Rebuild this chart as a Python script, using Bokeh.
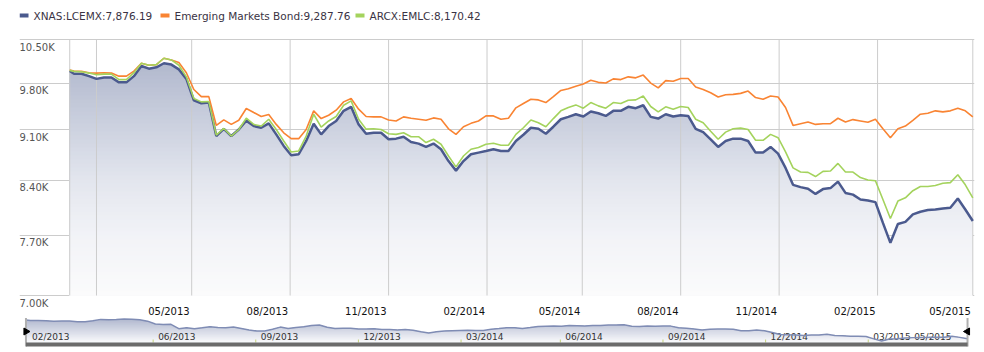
import numpy as np
import pandas as pd
from bokeh.plotting import figure
from bokeh.models import Range1d, FixedTicker, BoxAnnotation, LinearScale
from bokeh.layouts import column
from bokeh.embed import file_html
from bokeh.resources import INLINE
from bokeh.core.properties import value

# ---------------- data ----------------
dates = pd.DatetimeIndex([pd.Timestamp("2013-01-07")]).append(
    pd.date_range("2013-01-11", periods=121, freq="7D"))

names = ["XNAS:LCEMX", "Emerging Markets Bond", "ARCX:EMLC"]

lcemx = [9988,
         9945, 9945, 9908, 9865, 9886, 9886, 9811, 9811, 9908, 10069,
         10026, 10048, 10112, 10091, 10015, 9865, 9537, 9492, 9502, 9011,
         9115, 9011, 9105, 9234, 9155, 9130, 9194, 9035, 8871, 8741,
         8755, 8941, 9189, 9035, 9155, 9229, 9378, 9438, 9179, 9044,
         9058, 9058, 8965, 8974, 9002, 8927, 8904, 8857, 8904, 8825,
         8661, 8531, 8661, 8755, 8778, 8801, 8825, 8801, 8801, 8941,
         9030, 9130, 9115, 9044, 9145, 9254, 9289, 9328, 9294, 9368,
         9343, 9303, 9378, 9378, 9438, 9418, 9462, 9289, 9264, 9328,
         9294, 9313, 9303, 9115, 9067, 8965, 8857, 8941, 8974, 8974,
         8941, 8778, 8778, 8857, 8764, 8568, 8341, 8311, 8290, 8222,
         8285, 8298, 8383, 8235, 8213, 8150, 8137, 8116, 7853, 7609,
         7840, 7866, 7959, 7993, 8014, 8022, 8035, 8044, 8162, 8022, 7876.19]

em_bond = [10005,
           9988, 9983, 9962, 9956, 9962, 9956, 9908, 9908, 9988, 10112,
           10080, 10091, 10193, 10166, 10123, 9962, 9701, 9591, 9591, 9164,
           9244, 9179, 9239, 9413, 9353, 9294, 9323, 9179, 9058, 8974,
           8974, 9105, 9378, 9264, 9313, 9388, 9512, 9562, 9403, 9294,
           9289, 9289, 9244, 9229, 9289, 9269, 9254, 9239, 9274, 9254,
           9115, 9035, 9145, 9194, 9229, 9303, 9303, 9254, 9269, 9423,
           9487, 9552, 9542, 9502, 9591, 9686, 9711, 9750, 9785, 9843,
           9811, 9800, 9865, 9854, 9897, 9881, 9924, 9800, 9726, 9838,
           9827, 9870, 9870, 9740, 9701, 9651, 9587, 9621, 9626, 9641,
           9676, 9577, 9552, 9601, 9587, 9428, 9164, 9189, 9214, 9179,
           9189, 9189, 9269, 9214, 9249, 9229, 9209, 9254, 9115, 8988,
           9115, 9155, 9239, 9328, 9343, 9378, 9363, 9378, 9418, 9378, 9287.76]

emlc = [9999,
        9983, 9978, 9956, 9929, 9940, 9940, 9854, 9854, 9962, 10112,
        10080, 10091, 10193, 10166, 10080, 9897, 9562, 9512, 9517, 9025,
        9120, 9011, 9105, 9269, 9179, 9155, 9254, 9105, 8941, 8787,
        8801, 9011, 9328, 9140, 9229, 9294, 9462, 9527, 9254, 9110,
        9115, 9105, 9044, 9035, 9058, 9002, 9002, 8918, 8965, 8895,
        8731, 8582, 8731, 8825, 8848, 8895, 8909, 8881, 8881, 9035,
        9130, 9244, 9204, 9145, 9264, 9378, 9428, 9467, 9418, 9502,
        9452, 9418, 9502, 9487, 9537, 9542, 9601, 9443, 9363, 9438,
        9403, 9443, 9428, 9254, 9204, 9081, 8965, 9067, 9115, 9125,
        9105, 8951, 8951, 9035, 8988, 8787, 8568, 8512, 8507, 8451,
        8521, 8526, 8629, 8512, 8512, 8437, 8405, 8396, 8150, 7908,
        8129, 8171, 8264, 8319, 8319, 8332, 8362, 8370, 8475, 8341, 8170.42]

y_ticks = [7000, 7700, 8400, 9100, 9800, 10500]
grid_months = ["2013-02-01", "2013-05-01", "2013-08-01", "2013-11-01", "2014-02-01",
               "2014-05-01", "2014-08-01", "2014-11-01", "2015-02-01", "2015-05-01"]
x_label_months = grid_months[1:]
nav_tick_dates = ["2013-05-01", "2013-08-01", "2013-11-01", "2014-02-01",
                  "2014-05-01", "2014-08-01", "2014-11-01", "2015-02-01"]
nav_tick_labels = ["06/2013", "09/2013", "12/2013", "03/2014",
                   "06/2014", "09/2014", "12/2014", "03/2015"]
nav_first_label = "02/2013"
nav_last_label = "05/2015"

# ---------------- styles / layout ----------------
FONT = "DejaVu Sans"
C_BLUE = "#4b5a8e"
C_ORANGE = "#f98433"
C_GREEN = "#a4d35d"
C_GRID = "#cccccc"
DAY = 86400000.0
MAIN_H = 317
LEG_X = [19, 160, 355]      # legend item left edges (page px)
LEG_Y = 15                  # legend row centre (page px from top)


def ms(t):
    return pd.Timestamp(t).value / 1e6


def grad(t, stops):
    t = min(max(t, 0.0), 1.0)
    for (t0, c0), (t1, c1) in zip(stops[:-1], stops[1:]):
        if t <= t1:
            f = (t - t0) / (t1 - t0) if t1 > t0 else 0
            c = [int(round(a + (b - a) * f)) for a, b in zip(c0, c1)]
            return "#%02x%02x%02x" % tuple(c)
    return "#%02x%02x%02x" % tuple(stops[-1][1])


x_ms = np.array([ms(d) for d in dates])
blue = np.array(lcemx, dtype=float)
series = [lcemx, em_bond, emlc]
colors = [C_BLUE, C_ORANGE, C_GREEN]

# ---------------- main chart (frame spans page y 0..317, x 19..974) ----------------
PX_LN = 256.0 / np.log(10500 / 7000)        # pixels per ln-unit on the log axis
ppd = (972.3 - 73.5) / 840.0                  # pixels per day
x0 = x_ms[1] - (73.5 - 19) / ppd * DAY
x1 = x_ms[-1] + (974 - 972.3) / ppd * DAY
y_top = 10500 * np.exp(39 / PX_LN)
y_bot = 7000 * np.exp(-22 / PX_LN)

p = figure(width=984, height=MAIN_H, x_axis_location=None, y_axis_location=None,
           y_axis_type="log", x_range=Range1d(x0, x1), y_range=Range1d(y_bot, y_top),
           output_backend="svg", toolbar_location=None,
           min_border_left=19, min_border_right=10, min_border_top=0, min_border_bottom=0)
p.outline_line_color = None
p.background_fill_color = "white"
p.border_fill_color = "white"
p.xgrid.visible = False
p.ygrid.ticker = FixedTicker(ticks=y_ticks)
p.ygrid.grid_line_color = C_GRID
p.extra_x_ranges = {"px": Range1d(19, 974)}
p.extra_y_ranges = {"px": Range1d(0, MAIN_H)}
p.extra_x_scales = {"px": LinearScale()}
p.extra_y_scales = {"px": LinearScale()}

# gradient area under LCEMX
main_stops = [(0.0, (168, 176, 199)), (0.35, (205, 210, 224)), (0.55, (227, 230, 238)),
              (0.77, (242, 243, 247)), (1.0, (251, 251, 252))]
nb = 64
edges = np.exp(np.linspace(np.log(7000), np.log(10500), nb + 1))
for k in range(nb, 0, -1):
    t = 1 - (k - 0.5) / nb
    p.varea(x=x_ms, y1=7000, y2=np.minimum(blue, edges[k]), fill_color=grad(t, main_stops))

# vertical grid lines (data start + quarter months), from 7.00K to 10.50K
vg = [x_ms[0]] + [ms(m) for m in grid_months]
p.segment(x0=vg, y0=[7000] * len(vg), x1=vg, y1=[10500] * len(vg),
          line_color=C_GRID, line_width=1)

p.line(x_ms, lcemx, line_color=C_BLUE, line_width=2.5)
p.line(x_ms, em_bond, line_color=C_ORANGE, line_width=1.6)
p.line(x_ms, emlc, line_color=C_GREEN, line_width=1.6)

# y labels (just below each grid line)
p.text(x=[x0] * len(y_ticks), y=[v * np.exp(-2 / PX_LN) for v in y_ticks],
       text=[f"{v / 1000:.2f}K" for v in y_ticks], text_align="left", text_baseline="top",
       text_font=value(FONT), text_font_size="10px", text_color="#555555")

# x labels (right-aligned to their grid line)
p.text(x=[ms(m) for m in x_label_months], y=[7000 * np.exp(-10 / PX_LN)] * len(x_label_months),
       text=[pd.Timestamp(m).strftime("%m/%Y") for m in x_label_months], x_offset=-2,
       text_align="right", text_baseline="top", text_font=value(FONT),
       text_font_size="10px", text_color="#111111")

# legend row (page-pixel coordinates, y measured from the bottom of the chart block)
ly = MAIN_H - LEG_Y
p.segment(x0=LEG_X, y0=[ly] * 3, x1=[x + 9 for x in LEG_X], y1=[ly] * 3,
          line_color=colors, line_width=4, x_range_name="px", y_range_name="px")
p.text(x=[x + 14 for x in LEG_X], y=[ly - 0.5] * 3,
       text=[f"{n}:{s[-1]:,.2f}" for n, s in zip(names, series)],
       text_align="left", text_baseline="middle", text_font=value(FONT),
       text_font_size="10.5px", text_color="#3a3344", x_range_name="px", y_range_name="px")

# ---------------- navigator ----------------
nppd = (969 - 22.5) / 844.0
nx0 = x_ms[0] - (22.5 - 16) / nppd * DAY
nx1 = x_ms[-1] + (976 - 969) / nppd * DAY
vmax, vmin = blue.max(), blue.min()
sc = (vmax - vmin) / 22.0
ny1 = vmax + 1.5 * sc
ny0 = ny1 - 30 * sc
base = ny1 - 25 * sc

nav = figure(width=984, height=35, x_axis_location=None, y_axis_location=None,
             x_range=Range1d(nx0, nx1), y_range=Range1d(ny0, ny1),
             output_backend="svg", toolbar_location=None,
             min_border_left=16, min_border_right=8, min_border_top=0, min_border_bottom=5)
nav.outline_line_color = None
nav.xgrid.visible = False
nav.ygrid.visible = False
nav.background_fill_color = "white"
nav.border_fill_color = "white"

nav_stops = [(0.0, (172, 180, 204)), (1.0, (250, 250, 252))]
nnb = 24
nedges = np.linspace(base, ny1, nnb + 1)
for k in range(nnb, 0, -1):
    t = 1 - (k - 0.5) / nnb
    nav.varea(x=x_ms, y1=base, y2=np.clip(np.minimum(blue, nedges[k]), base, None),
              fill_color=grad(t, nav_stops))

nav.add_layout(BoxAnnotation(left=x_ms[0], right=x_ms[-1], bottom=ny1 - 29 * sc, top=base,
                             fill_color="#6b6b6b", fill_alpha=1.0, line_color=None))

lab_y = ny1 - 19.5 * sc
nav.text(x=[ms(d) for d in nav_tick_dates], y=[lab_y] * len(nav_tick_dates), text=nav_tick_labels,
         x_offset=5, text_align="left", text_baseline="alphabetic", text_font=value(FONT),
         text_font_size="9px", text_color="#333333")
nav.text(x=[x_ms[0]], y=[lab_y], text=[nav_first_label], x_offset=6, text_align="left",
         text_baseline="alphabetic", text_font=value(FONT), text_font_size="9px",
         text_color="#333333")
nav.text(x=[x_ms[-1]], y=[lab_y], text=[nav_last_label], x_offset=-16, text_align="right",
         text_baseline="alphabetic", text_font=value(FONT), text_font_size="9px",
         text_color="#333333")
nav.segment(x0=[ms(d) for d in nav_tick_dates], y0=[base] * len(nav_tick_dates),
            x1=[ms(d) for d in nav_tick_dates], y1=[base + 3 * sc] * len(nav_tick_dates),
            line_color="#c5d27a", line_width=1)

nav.line(x_ms, lcemx, line_color="#7f8cb4", line_width=1.5)

hy = ny1 - 14 * sc
nav.segment(x0=[x_ms[0], x_ms[-1]], y0=[ny1 - 0.5 * sc] * 2, x1=[x_ms[0], x_ms[-1]],
            y1=[ny1 - 29 * sc] * 2, line_color="#b0b0b0", line_width=2)
nav.scatter(x=[x_ms[0]], y=[hy], marker="triangle", size=7, angle=-np.pi / 2,
            fill_color="black", line_color="black")
nav.scatter(x=[x_ms[-1]], y=[hy], marker="triangle", size=7, angle=np.pi / 2,
            fill_color="black", line_color="black")

layout = column(p, nav, spacing=0)
open("out.html", "w").write(file_html(layout, INLINE))
